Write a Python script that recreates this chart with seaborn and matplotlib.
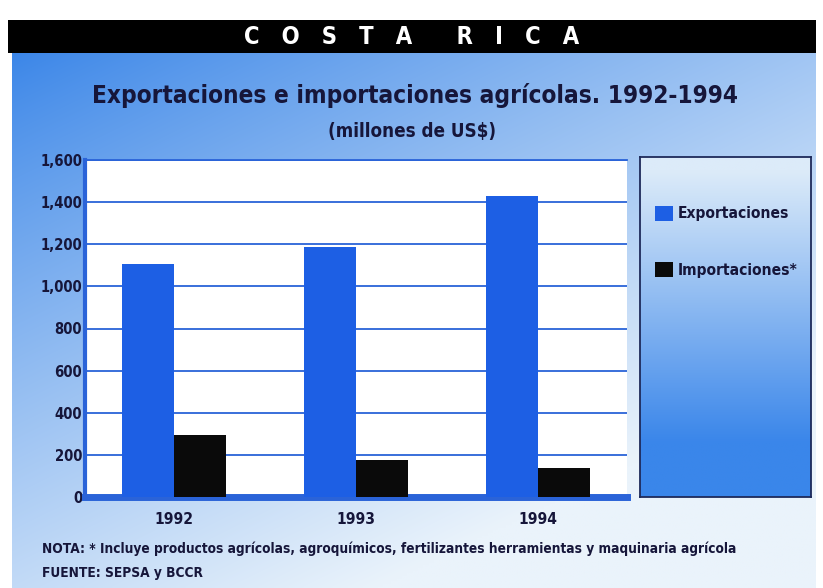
import numpy as np
import pandas as pd
import matplotlib
matplotlib.use("Agg")
import matplotlib.pyplot as plt
from matplotlib import font_manager
from matplotlib.font_manager import FontProperties
from matplotlib.colors import to_rgb
import seaborn as sns

# ---- data (millones de US$) ----
years = ["1992", "1993", "1994"]
exportaciones = [1108, 1188, 1428]
importaciones = [294, 177, 138]
series_names = ["Exportaciones", "Importaciones*"]
y_ticks = [0, 200, 400, 600, 800, 1000, 1200, 1400, 1600]
y_tick_labels = ["0", "200", "400", "600", "800", "1,000", "1,200", "1,400", "1,600"]

df = pd.DataFrame({
    "Año": years * 2,
    "Valor": exportaciones + importaciones,
    "Serie": [series_names[0]] * len(years) + [series_names[1]] * len(years),
})

sns.set_theme(style="white")
plt.rcParams["font.family"] = ["DejaVu Sans"]


def pick_bold_narrow_font():
    """Return the file of a bold, narrow sans face if one is installed."""
    entries = font_manager.fontManager.ttflist

    def bold(e):
        w = e.weight
        if isinstance(w, (int, float)):
            return w >= 600
        return str(w).lower() in ("bold", "heavy", "black", "semibold", "demibold", "extra bold")

    def narrow(e):
        s = (e.name + " " + e.fname + " " + str(e.stretch)).lower()
        return "narrow" in s or "condensed" in s

    def upright(e):
        s = e.fname.lower()
        return e.style == "normal" and "italic" not in s and "oblique" not in s

    for pref in ("liberation sans narrow", "dejavu sans", "noto sans", "open sans",
                 "roboto", "lato", "inter"):
        for e in entries:
            n = e.name.lower()
            if n.startswith(pref) and "mono" not in n and bold(e) and narrow(e) and upright(e):
                return e.fname
    for fam in ("Roboto", "Liberation Sans", "DejaVu Sans"):
        try:
            return font_manager.findfont(FontProperties(family=fam, weight="bold"),
                                         fallback_to_default=False)
        except Exception:
            continue
    return font_manager.findfont(FontProperties(weight="bold"))


FONT_FILE = pick_bold_narrow_font()


def fp(size):
    return FontProperties(fname=FONT_FILE, size=size)


NAVY = "#16163a"
BAR_BLUE = "#1d5fe4"
GRID_BLUE = "#2a63d8"

W, H = 823, 588
fig = plt.figure(figsize=(W / 100, H / 100), dpi=100)
fig.patch.set_facecolor("white")
renderer = fig.canvas.get_renderer()


def size_for_width(text, width_px, base=20.0):
    """Font size at which `text` spans about `width_px` pixels."""
    t = fig.text(0, 0, text, fontproperties=fp(base))
    w = t.get_window_extent(renderer=renderer).width
    t.remove()
    return base * width_px / w


def box(x0, y0, x1, y1):
    """Pixel box (top-left origin) -> figure fraction rect."""
    return [x0 / W, 1 - y1 / H, (x1 - x0) / W, (y1 - y0) / H]


# ---- panel background: diagonal blue gradient ----
bg = fig.add_axes(box(12, 52, 816, 588), zorder=-10)
ny, nx = 200, 300
yy, xx = np.mgrid[0:1:ny * 1j, 0:1:nx * 1j]
t = np.clip(0.55 * xx + 0.75 * yy, 0, 1) ** 0.9
dark = np.array(to_rgb("#3b86e8"))
light = np.array(to_rgb("#eaf3fb"))
img = dark[None, None, :] * (1 - t[..., None]) + light[None, None, :] * t[..., None]
bg.imshow(img, aspect="auto", extent=[0, 1, 0, 1], origin="upper", interpolation="bilinear")
bg.set_axis_off()

# ---- black header band ----
hdr = fig.add_axes(box(8, 20, 816, 53), zorder=-5)
hdr.set_facecolor("black")
hdr.set_xticks([]); hdr.set_yticks([])
for s in hdr.spines.values():
    s.set_visible(False)
header = "C   O   S   T   A      R   I   C   A"
hdr.text(0.5, 0.47, header, color="white",
         fontproperties=fp(min(size_for_width(header, 335), 17)),
         ha="center", va="center", transform=hdr.transAxes)

# ---- titles ----
title = "Exportaciones e importaciones agrícolas. 1992-1994"
fig.text((92 + 738) / 2 / W, 1 - 95 / H, title, ha="center", va="center",
         fontproperties=fp(size_for_width(title, 646)), color=NAVY)
subtitle = "(millones de US$)"
fig.text(412 / W, 1 - 131 / H, subtitle, ha="center", va="center",
         fontproperties=fp(size_for_width(subtitle, 168)), color=NAVY)

# ---- main bar chart ----
ax = fig.add_axes(box(85, 160, 627, 497))
ax.set_facecolor("white")
sns.barplot(data=df, x="Año", y="Valor", hue="Serie", order=years,
            hue_order=series_names, palette=[BAR_BLUE, "#0a0a0a"],
            width=0.57, saturation=1, ax=ax, legend=True, zorder=3)
for p in ax.patches:
    p.set_edgecolor("none")
ax.set_ylim(0, 1600)
ax.set_xlim(-0.49, 2.49)
ax.set_yticks(y_ticks)
ax.set_yticklabels(y_tick_labels)
ax.yaxis.grid(True, color=GRID_BLUE, linewidth=1.3, zorder=1)
ax.set_axisbelow(True)
ax.set_xlabel("")
ax.set_ylabel("")
tick_size = size_for_width("1,600", 42)
ax.tick_params(axis="both", length=0, labelcolor=NAVY)
ax.tick_params(axis="y", pad=2)
ax.tick_params(axis="x", pad=11)
for lab in ax.get_yticklabels():
    lab.set_fontproperties(fp(tick_size))
for lab in ax.get_xticklabels():
    lab.set_fontproperties(fp(tick_size * 1.05))
ax.spines["right"].set_visible(False)
ax.spines["top"].set_color(GRID_BLUE)
ax.spines["top"].set_linewidth(1.3)
ax.spines["left"].set_color(GRID_BLUE)
ax.spines["left"].set_linewidth(3)
ax.spines["bottom"].set_color(GRID_BLUE)
ax.spines["bottom"].set_linewidth(5)

handles, labels = ax.get_legend_handles_labels()
ax.get_legend().remove()

# ---- legend panel with its own gradient ----
lg = fig.add_axes(box(640, 157, 811, 497))
gy = np.linspace(0, 1, 200)[:, None]
tg = np.clip(gy * 1.25 - 0.05, 0, 1)
top_c = np.array(to_rgb("#dcebf9"))
bot_c = np.array(to_rgb("#3a86ea"))
gimg = top_c[None, None, :] * (1 - tg[..., None]) + bot_c[None, None, :] * tg[..., None]
gimg = np.repeat(gimg, 10, axis=1)
lg.imshow(gimg, aspect="auto", extent=[0, 1, 0, 1], origin="upper")
lg.set_xticks([]); lg.set_yticks([])
for s in lg.spines.values():
    s.set_color("#1e2a5a")
    s.set_linewidth(1.3)
leg_size = size_for_width("Exportaciones", 112)
leg = lg.legend(handles, labels, loc="upper left", bbox_to_anchor=(0.045, 0.88),
                frameon=False, prop=fp(leg_size), handlelength=1.1, handleheight=1.1,
                handletextpad=0.35, labelspacing=2.6, borderpad=0)
for txt in leg.get_texts():
    txt.set_color(NAVY)

# ---- notes ----
nota = "NOTA: * Incluye productos agrícolas, agroquímicos, fertilizantes herramientas y maquinaria agrícola"
note_size = size_for_width(nota, 695)
fig.text(42 / W, 1 - 549 / H, nota, ha="left", va="center",
         fontproperties=fp(note_size), color=NAVY)
fig.text(42 / W, 1 - 573 / H, "FUENTE: SEPSA y BCCR", ha="left", va="center",
         fontproperties=fp(note_size), color=NAVY)

fig.savefig("out.png", dpi=100)
